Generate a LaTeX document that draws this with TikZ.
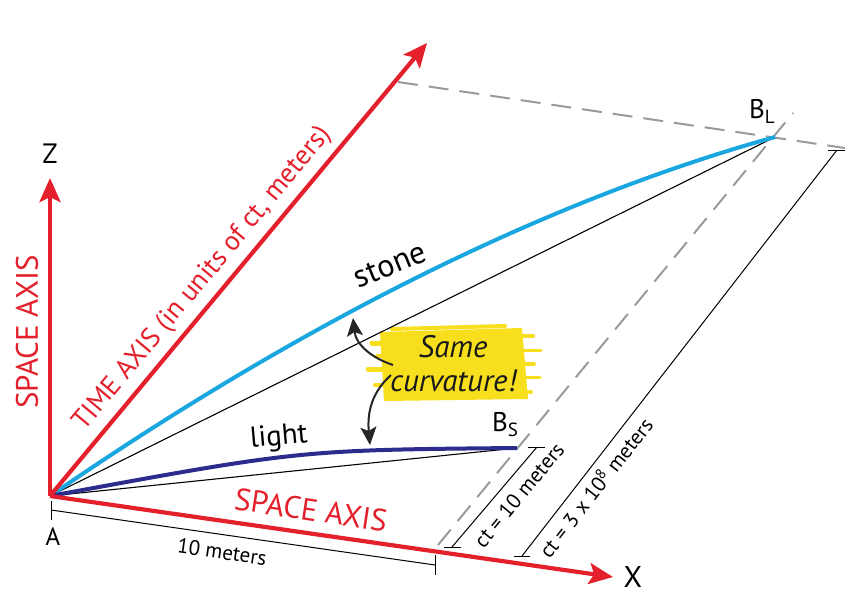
\documentclass[tikz,border=0pt]{standalone}
\usepackage{fontspec}
\setmainfont{PT Sans}
\usetikzlibrary{arrows.meta,calc}
\definecolor{axred}{HTML}{E3202B}
\definecolor{stoneblue}{HTML}{1AA7E0}
\definecolor{lightnavy}{HTML}{2B2C8E}
\definecolor{dashgray}{HTML}{9A9A9A}
\definecolor{hiyellow}{HTML}{F7DF1E}
\begin{document}
\begin{tikzpicture}[x=1pt,y=-1pt,
  axisarrow/.style={draw=axred,line width=4.2pt,-{Stealth[length=24pt,width=21pt,inset=5pt]}},
  redlabel/.style={text=axred,inner sep=0pt,font=\fontsize{31}{34}\selectfont},
  blacklabel/.style={text=black,inner sep=0pt,font=\fontsize{28}{30}\selectfont},
  dimlabel/.style={text=black,inner sep=0pt,font=\fontsize{21}{24}\selectfont},
  chord/.style={draw=black,line width=1.1pt},
  dimline/.style={draw=black,line width=1pt},
  guide/.style={draw=dashgray,line width=2pt,dash pattern=on 20pt off 11pt},
  worldline/.style={line width=4pt},
  pointer/.style={draw=black!85,line width=2pt,-{Stealth[length=18pt,width=16pt,inset=4pt]}}
]
\useasboundingbox (0,0) rectangle (862,600);

% key points
\coordinate (A) at (50,496);
\coordinate (Ztip) at (50,178);
\coordinate (Ttip) at (427,43);
\coordinate (Xtip) at (613,577);
\coordinate (BL) at (775,137);
\coordinate (BS) at (517,448);
\coordinate (D1a) at (398,82);
\coordinate (D1b) at (845,148);
\coordinate (D2a) at (438,545);
\coordinate (D2b) at (793,113);

% dashed guides
\draw[guide] (D1a) -- (D1b);
\draw[guide] (D2a) -- (D2b);

% yellow highlight
\fill[hiyellow] (380,332) -- (522,328) -- (528,399) -- (384,401) -- cycle;
\begin{scope}[hiyellow,line cap=round]
  \draw[line width=5pt] (372,343) -- (400,343);
  \draw[line width=4pt] (377,356) -- (395,356);
  \draw[line width=5pt] (368,369) -- (392,369);
  \draw[line width=4pt] (375,385) -- (396,385);
  \draw[line width=4pt] (508,336) -- (533,336);
  \draw[line width=3pt] (512,350) -- (541,350);
  \draw[line width=4pt] (512,364) -- (534,364);
  \draw[line width=3pt] (512,377) -- (540,377);
  \draw[line width=4pt] (505,392) -- (531,392);
  \draw[line width=4pt] (392,329) -- (505,326);
\end{scope}

% chords
\draw[chord] (A) -- (BL);
\draw[chord] (A) -- (BS);

% world lines
\draw[worldline,stoneblue] (A) .. controls (335,300) and (577,192) .. (BL);
\draw[worldline,lightnavy] (A) .. controls (300,450) .. (BS);

% axes
\draw[axisarrow] (A) -- (Ztip);
\draw[axisarrow] (A) -- (Ttip);
\draw[axisarrow] (A) -- (Xtip);

% dimension: 10 meters
\coordinate (M1) at (51,510);
\coordinate (M2) at (435,565);
\draw[dimline] (M1) -- (M2);
\draw[dimline] ($(M1)+(0,-9)$) -- ($(M1)+(0,10)$);
\draw[dimline] ($(M2)+(0,-10)$) -- ($(M2)+(0,10)$);

% dimension: ct = 10 meters
\coordinate (C1a) at (452,547);
\coordinate (C1b) at (537,447);
\draw[dimline] (C1a) -- (C1b);
\draw[dimline] (444,547) -- (461,547);
\draw[dimline] (528,447) -- (545,447);

% dimension: ct = 3 x 10^8 meters
\coordinate (C2a) at (522,556);
\coordinate (C2b) at (837,150);
\draw[dimline] (C2a) -- (C2b);
\draw[dimline] (514,556) -- (530,556);
\draw[dimline] (828,150) -- (845,150);

% pointers
\draw[pointer] (393,365) .. controls (372,358) and (356,345) .. (353,318);
\draw[pointer] (391,375) .. controls (372,392) and (367,412) .. (370,445);

% labels
\node[blacklabel] (zl) at (50,154) {Z};
\node[blacklabel,font=\fontsize{25}{27}\selectfont] (al) at (53,537) {A};
\node[blacklabel,font=\fontsize{30}{32}\selectfont] (xl) at (633,577) {X};
\node[blacklabel,font=\fontsize{27}{29}\selectfont] (bll) at (762,111) {B\raisebox{-5pt}{\fontsize{19}{20}\selectfont L}};
\node[blacklabel,font=\fontsize{27}{29}\selectfont] (bsl) at (505,425) {B\raisebox{-5pt}{\fontsize{19}{20}\selectfont S}};

\node[redlabel,rotate=90] (zaxl) at (27,332) {SPACE AXIS};
\node[redlabel,font=\fontsize{27.5}{30}\selectfont,rotate=50.2] (taxl) at (203,279) {TIME AXIS (in units of ct, meters)};
\node[redlabel,rotate=-8.5] (xaxl) at (311,510) {SPACE AXIS};

\node[blacklabel,font=\fontsize{32}{34}\selectfont,rotate=22] (stl) at (390,265) {stone};
\node[blacklabel,font=\fontsize{29}{31}\selectfont,rotate=5] (lil) at (279,438) {light};

\node[dimlabel,rotate=-8.3] (tenl) at (222,552) {10 meters};
\node[dimlabel,rotate=50.5] (ct1l) at (519,495) {ct = 10 meters};
\node[dimlabel,rotate=52] (ct2l) at (595,487) {ct = 3 x 10\textsuperscript{8} meters};

\node[text=black!90,inner sep=0pt,align=center,font=\itshape\fontsize{31}{34}\selectfont] (same) at (453,364) {Same\\curvature!};
\end{tikzpicture}
\end{document}
